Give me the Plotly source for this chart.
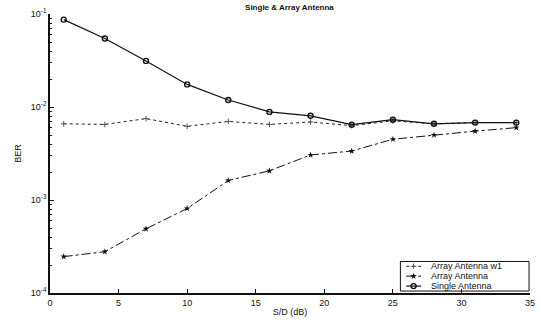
import plotly.graph_objects as go

# S/D values (dB) at which BER was simulated
sd_db = [1, 4, 7, 10, 13, 16, 19, 22, 25, 28, 31, 34]

# BER per configuration
ber_array_w1 = [0.0066, 0.0065, 0.0075, 0.0062, 0.0070, 0.0065, 0.0069, 0.0063, 0.0071, 0.0066, 0.0068, 0.0068]
ber_array = [0.000246, 0.000278, 0.00049, 0.00081, 0.00162, 0.00206, 0.00305, 0.00336, 0.0045, 0.0050, 0.0055, 0.0060]
ber_single = [0.087, 0.0546, 0.0313, 0.0175, 0.0119, 0.00886, 0.00804, 0.00646, 0.0073, 0.0066, 0.0068, 0.0068]

series_names = ["Array Antenna w1", "Array Antenna", "Single Antenna"]

x_ticks = [0, 5, 10, 15, 20, 25, 30, 35]
y_ticks = [1e-4, 1e-3, 1e-2, 1e-1]
y_tick_text = ["10<sup>-4</sup>", "10<sup>-3</sup>", "10<sup>-2</sup>", "10<sup>-1</sup>"]

minor_y = [m * d for d in (1e-4, 1e-3, 1e-2) for m in range(2, 10)]

styles = [
    dict(line=dict(color="#222", width=1, dash="dot"),
         marker=dict(symbol="cross-thin", size=4, color="#555",
                     line=dict(color="#555", width=1))),
    dict(line=dict(color="#111", width=1, dash="dashdot"),
         marker=dict(symbol="star", size=5, color="#111")),
    dict(line=dict(color="#111", width=1.2),
         marker=dict(symbol="circle-open", size=5, color="#111",
                     line=dict(color="#111", width=1.4))),
]

fig = go.Figure()
for name, ys, st in zip(series_names, [ber_array_w1, ber_array, ber_single], styles):
    fig.add_trace(go.Scatter(x=sd_db, y=ys, name=name, mode="lines+markers",
                             showlegend=False, **st))

# compact boxed legend drawn on an overlay axis spanning the plot area (0..1)
leg_x0, leg_x1 = 0.730, 0.998
leg_y0, leg_y1 = 0.007, 0.113
row_y = [0.0957, 0.0603, 0.0248]
fig.add_shape(type="rect", xref="paper", yref="paper", x0=leg_x0, x1=leg_x1,
              y0=leg_y0, y1=leg_y1, line=dict(color="#111", width=1),
              fillcolor="white", layer="below")
for name, ry, st in zip(series_names, row_y, styles):
    fig.add_trace(go.Scatter(x=[0.742, 0.7575, 0.773], y=[ry, ry, ry], mode="lines",
                             xaxis="x2", yaxis="y2", showlegend=False,
                             hoverinfo="skip", line=st["line"]))
    fig.add_trace(go.Scatter(x=[0.7575], y=[ry], mode="markers",
                             xaxis="x2", yaxis="y2", showlegend=False,
                             hoverinfo="skip", marker=st["marker"]))
    fig.add_annotation(text=name, xref="paper", yref="paper", x=0.79, y=ry,
                       xanchor="left", yanchor="middle", showarrow=False,
                       font=dict(size=9, color="#111"))

fig.update_layout(
    width=541, height=322,
    margin=dict(l=50, r=6, t=14, b=26),
    paper_bgcolor="white", plot_bgcolor="white",
    font=dict(family="Liberation Sans, Arial, sans-serif", size=9, color="#111"),
    title=dict(text="<b>Single & Array Antenna</b>", x=0.535, xanchor="center",
               y=0.985, yanchor="top", font=dict(size=8)),
    showlegend=False,
    xaxis=dict(
        range=[0, 35], tickvals=x_ticks, showgrid=False, zeroline=False,
        showline=True, linecolor="#111", linewidth=1.5,
        ticks="inside", ticklen=4, tickcolor="#111",
        title=dict(text="S/D (dB)", standoff=2, font=dict(size=9)),
    ),
    yaxis=dict(
        type="log", range=[-4, -1], tickvals=y_ticks, ticktext=y_tick_text,
        showgrid=False, zeroline=False,
        showline=True, linecolor="#111", linewidth=1.5,
        ticks="inside", ticklen=4, tickcolor="#111",
        minor=dict(tickvals=minor_y, ticks="inside", ticklen=2, tickcolor="#111"),
        title=dict(text="BER", standoff=8, font=dict(size=9)),
    ),
    xaxis2=dict(overlaying="x", range=[0, 1], visible=False, fixedrange=True),
    yaxis2=dict(overlaying="y", range=[0, 1], visible=False, fixedrange=True),
)

fig.write_html("out.html")
